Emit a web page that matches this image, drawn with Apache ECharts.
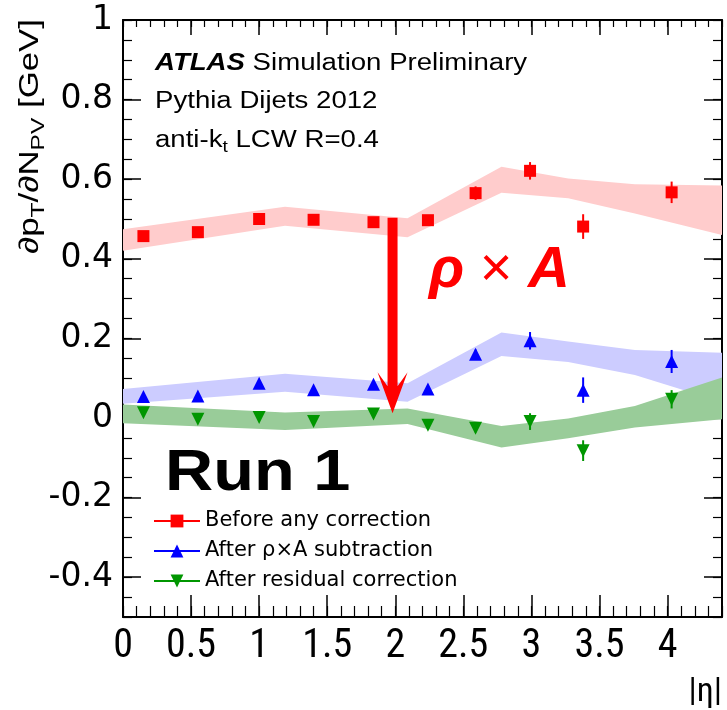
<!DOCTYPE html>
<html><head><meta charset="utf-8">
<script src="https://cdn.jsdelivr.net/npm/echarts@6/dist/echarts.min.js"></script>
<style>html,body{margin:0;padding:0;background:#fff}#c{width:727px;height:710px}</style>
</head><body><div id="c"></div>
<script>
// ---------- data ----------
const etaBins = [0.15, 0.55, 1.0, 1.4, 1.84, 2.24, 2.59, 2.99, 3.38, 4.03];
const beforeCorr = [0.457, 0.467, 0.500, 0.498, 0.492, 0.497, 0.565, 0.621, 0.481, 0.567];
const beforeErr = [0.004, 0.004, 0.004, 0.004, 0.005, 0.005, 0.017, 0.022, 0.031, 0.027];
const afterRhoA = [0.054, 0.055, 0.087, 0.071, 0.085, 0.073, 0.160, 0.194, 0.070, 0.142];
const afterRhoAErr = [0.005, 0.005, 0.005, 0.005, 0.006, 0.006, 0.012, 0.022, 0.032, 0.029];
const afterResid = [0.013, -0.003, 0.001, -0.009, 0.010, -0.018, -0.026, -0.009, -0.082, 0.047];
const afterResidErr = [0.004, 0.004, 0.004, 0.004, 0.005, 0.005, 0.010, 0.021, 0.026, 0.023];

const bandEta = [0, 1.19, 2.09, 2.78, 3.27, 3.76, 4.4];
const beforeBandLo = [0.420, 0.483, 0.454, 0.566, 0.552, 0.514, 0.460];
const beforeBandHi = [0.474, 0.531, 0.502, 0.631, 0.602, 0.587, 0.584];
const rhoABandLo = [0.036, 0.066, 0.041, 0.156, 0.141, 0.108, 0.040];
const rhoABandHi = [0.073, 0.111, 0.087, 0.215, 0.192, 0.171, 0.164];
const residBandLo = [-0.013, -0.030, -0.015, -0.074, -0.051, -0.024, -0.003];
const residBandHi = [0.034, 0.014, 0.024, -0.020, -0.001, 0.030, 0.102];

const arrowEta = [1.98];
const arrowTop = [0.503];
const arrowTip = [0.012];

const xMajorTicks = [0, 0.5, 1, 1.5, 2, 2.5, 3, 3.5, 4];
const yMajorTicks = [-0.4, -0.2, 0, 0.2, 0.4, 0.6, 0.8, 1];
const seriesNames = ['Before any correction', 'After \u03c1\u00d7A subtraction', 'After residual correction'];

// ---------- chart ----------
const RED = '#ff0000', BLUE = '#0000ff', GREEN = '#009600';
const chart = echarts.init(document.getElementById('c'), null, {renderer: 'canvas'});

function bandSeries(lo, hi, color) {
  return {
    type: 'custom', silent: true, z: 1, xAxisIndex: 0, yAxisIndex: 0,
    data: [[0, 0]],
    renderItem: function (params, api) {
      const pts = [];
      for (let i = 0; i < bandEta.length; i++) pts.push(api.coord([bandEta[i], hi[i]]));
      for (let i = bandEta.length - 1; i >= 0; i--) pts.push(api.coord([bandEta[i], lo[i]]));
      return {type: 'polygon', shape: {points: pts}, style: {fill: color}};
    }
  };
}
function errSeries(vals, errs, color) {
  return {
    type: 'custom', silent: true, z: 3, xAxisIndex: 0, yAxisIndex: 0,
    data: etaBins.map((x, i) => [x, vals[i], errs[i]]),
    renderItem: function (params, api) {
      const x = api.value(0), y = api.value(1), e = api.value(2);
      const p1 = api.coord([x, y + e]), p2 = api.coord([x, y - e]);
      return {type: 'line', shape: {x1: p1[0], y1: p1[1], x2: p2[0], y2: p2[1]},
              style: {stroke: color, lineWidth: 2}};
    }
  };
}
function pointSeries(name, vals, color, symbol, rot, size) {
  return {
    type: 'line', name: name, showLine: false, z: 4, xAxisIndex: 0, yAxisIndex: 0,
    data: etaBins.map((x, i) => [x, vals[i]]),
    symbol: symbol, symbolSize: size, symbolRotate: rot,
    itemStyle: {color: color, opacity: 1},
    lineStyle: {color: color, width: 0, opacity: 0}
  };
}

const axisBase = {type: 'value', min: 0, max: 4.4};
const yBase = {type: 'value', min: -0.5, max: 1};
const line = {show: true, onZero: false, lineStyle: {color: '#000', width: 2}};
const noLine = {show: false, onZero: false};
const SANS = "'Liberation Sans', Arial, sans-serif";
const NARROW = "'Liberation Sans Narrow', 'Roboto Condensed', 'Liberation Sans', sans-serif";

const option = {
  animation: false,
  backgroundColor: '#ffffff',
  grid: {left: 123, right: 5, top: 20, bottom: 93, containLabel: false, outerBoundsMode: 'none'},
  xAxis: [
    Object.assign({}, axisBase, {position: 'bottom', axisLine: line,
      axisTick: {show: true, inside: true, length: 22, customValues: xMajorTicks, lineStyle: {color: '#000', width: 1.5}},
      axisLabel: {show: true, customValues: xMajorTicks, margin: 10, color: '#000', fontSize: 40, fontFamily: NARROW},
      splitLine: {show: false}}),
    Object.assign({}, axisBase, {position: 'bottom', interval: 0.1, axisLine: noLine,
      axisTick: {show: true, inside: true, length: 11, lineStyle: {color: '#000', width: 1.2}},
      axisLabel: {show: false}, splitLine: {show: false}}),
    Object.assign({}, axisBase, {position: 'top', axisLine: line,
      axisTick: {show: true, inside: true, length: 15, customValues: xMajorTicks, lineStyle: {color: '#000', width: 1.5}},
      axisLabel: {show: false}, splitLine: {show: false}}),
    Object.assign({}, axisBase, {position: 'top', interval: 0.1, axisLine: noLine,
      axisTick: {show: true, inside: true, length: 7, lineStyle: {color: '#000', width: 1.2}},
      axisLabel: {show: false}, splitLine: {show: false}})
  ],
  yAxis: [
    Object.assign({}, yBase, {position: 'left', axisLine: line,
      axisTick: {show: true, inside: true, length: 18, customValues: yMajorTicks, lineStyle: {color: '#000', width: 1.5}},
      axisLabel: {show: true, customValues: yMajorTicks, margin: 10, color: '#000', fontSize: 33, fontFamily: "'DejaVu Sans', sans-serif"},
      splitLine: {show: false}}),
    Object.assign({}, yBase, {position: 'left', interval: 0.05, axisLine: noLine,
      axisTick: {show: true, inside: true, length: 9, lineStyle: {color: '#000', width: 1.2}},
      axisLabel: {show: false}, splitLine: {show: false}}),
    Object.assign({}, yBase, {position: 'right', axisLine: line,
      axisTick: {show: true, inside: true, length: 18, customValues: yMajorTicks, lineStyle: {color: '#000', width: 1.5}},
      axisLabel: {show: false}, splitLine: {show: false}}),
    Object.assign({}, yBase, {position: 'right', interval: 0.05, axisLine: noLine,
      axisTick: {show: true, inside: true, length: 9, lineStyle: {color: '#000', width: 1.2}},
      axisLabel: {show: false}, splitLine: {show: false}})
  ],
  legend: {
    data: seriesNames, orient: 'vertical', left: 148, top: 504,
    itemWidth: 46, itemHeight: 16, itemGap: 6,
    lineStyle: {width: 2, opacity: 1},
    textStyle: {fontFamily: "'DejaVu Sans', sans-serif", fontSize: 21, color: '#000', lineHeight: 24},
    selectedMode: false
  },
  graphic: [
    {type: 'text', x: 155, y: 63.5, scaleX: 1.2, z: 10, style: {
      text: '{b|ATLAS}{n| Simulation Preliminary}', align: 'left', verticalAlign: 'middle',
      rich: {
        b: {fontSize: 23, fontFamily: SANS, fontWeight: 'bold', fontStyle: 'italic', fill: '#000'},
        n: {fontSize: 23, fontFamily: SANS, fill: '#000'}
      }}},
    {type: 'text', x: 155, y: 101.5, scaleX: 1.2, z: 10, style: {
      text: 'Pythia Dijets 2012', fontSize: 23, fontFamily: SANS, fill: '#000', align: 'left', verticalAlign: 'middle'}},
    {type: 'text', x: 155, y: 141, scaleX: 1.2, z: 10, style: {
      text: '{a|anti-k}{s|t}{a| LCW R=0.4}', align: 'left', verticalAlign: 'middle',
      rich: {
        a: {fontSize: 23, fontFamily: SANS, fill: '#000', lineHeight: 30},
        s: {fontSize: 16, fontFamily: SANS, fill: '#000', lineHeight: 16, verticalAlign: 'bottom'}
      }}},
    {type: 'text', x: 31, y: 19, rotation: Math.PI / 2, scaleX: 1.29, z: 10, style: {
      text: '{a|\u2202p}{s|T}{a|/\u2202N}{s|PV}{a| [GeV]}', align: 'right', verticalAlign: 'middle',
      rich: {
        a: {fontSize: 27, fontFamily: SANS, fill: '#000', lineHeight: 34},
        s: {fontSize: 19, fontFamily: SANS, fill: '#000', lineHeight: 19, verticalAlign: 'bottom'}
      }}},
    {type: 'text', x: 165, y: 473.5, scaleX: 1.15, z: 10, style: {
      text: 'Run 1', fontSize: 58, fontFamily: SANS, fontWeight: 'bold', fill: '#000', align: 'left', verticalAlign: 'middle'}},
    {type: 'text', x: 429, y: 271, z: 10, style: {
      text: '{b|\u03c1}{x| \u00d7 }{b|A}', align: 'left', verticalAlign: 'middle',
      rich: {
        b: {fontSize: 58, fontFamily: SANS, fontWeight: 'bold', fontStyle: 'italic', fill: RED},
        x: {fontSize: 56, fontFamily: SANS, fill: RED}
      }}},
    {type: 'text', x: 722, y: 692, z: 10, style: {
      text: '|\u03b7|', fontSize: 34, fontFamily: NARROW, fill: '#000', align: 'right', verticalAlign: 'middle'}}
  ],
  series: [
    bandSeries(beforeBandLo, beforeBandHi, '#ffcccc'),
    bandSeries(rhoABandLo, rhoABandHi, '#ccccff'),
    bandSeries(residBandLo, residBandHi, '#99cc99'),
    errSeries(beforeCorr, beforeErr, RED),
    errSeries(afterRhoA, afterRhoAErr, BLUE),
    errSeries(afterResid, afterResidErr, GREEN),
    pointSeries(seriesNames[0], beforeCorr, RED, 'rect', 0, 12),
    pointSeries(seriesNames[1], afterRhoA, BLUE, 'triangle', 0, 13),
    pointSeries(seriesNames[2], afterResid, GREEN, 'triangle', 180, 13),
    {
      type: 'custom', silent: true, z: 5, xAxisIndex: 0, yAxisIndex: 0,
      data: arrowEta.map((x, i) => [x, arrowTop[i], arrowTip[i]]),
      renderItem: function (params, api) {
        const top = api.coord([api.value(0), api.value(1)]);
        const tip = api.coord([api.value(0), api.value(2)]);
        const cx = top[0];
        const pts = [[cx - 5, top[1]], [cx + 5, top[1]], [cx + 5, tip[1] - 27], [cx + 15, tip[1] - 41],
                     [cx, tip[1]], [cx - 15, tip[1] - 41], [cx - 5, tip[1] - 27]];
        return {type: 'polygon', shape: {points: pts}, style: {fill: RED}};
      }
    }
  ]
};
chart.setOption(option);
</script></body></html>
